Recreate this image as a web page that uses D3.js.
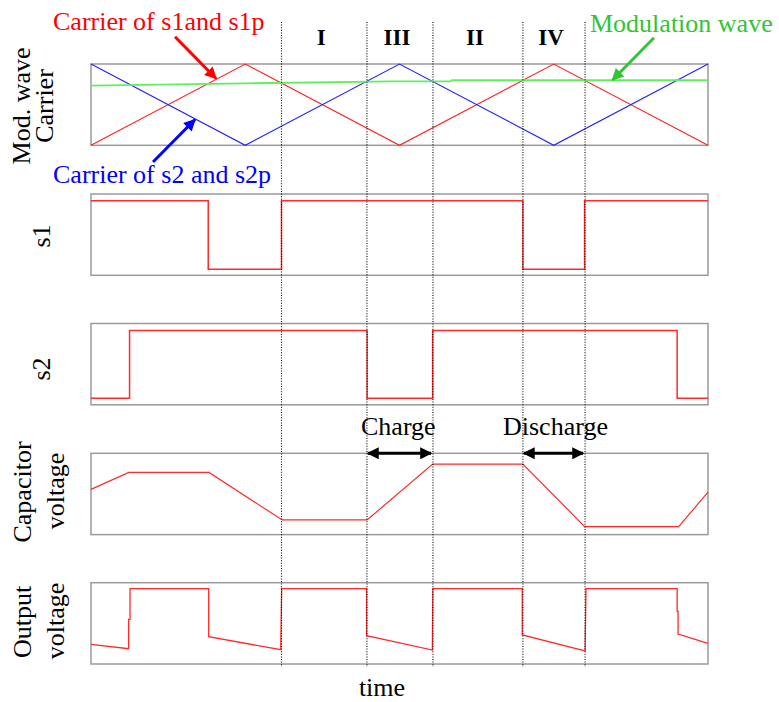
<!DOCTYPE html>
<html>
<head>
<meta charset="utf-8">
<script src="https://cdn.jsdelivr.net/npm/d3@7"></script>
<style>
  html, body { margin: 0; padding: 0; background: #fff; }
  svg { display: block; }
  text { font-family: "Liberation Serif", "Times New Roman", "DejaVu Serif", serif; }
</style>
</head>
<body>
<svg id="chart" width="779" height="702"></svg>
<script>
// ---------------- DATA (time in carrier half-periods, values normalised 0..1) ----------------
const carrierTimes = [0, 1, 2, 3, 4];
const carrier1Values = [0, 1, 0, 1, 0];          // carrier of s1 and s1p (red)
const carrier2Values = [1, 0, 1, 0, 1];          // carrier of s2 and s2p (blue)

const modTimes  = [0, 1.0, 1.95, 2.33, 2.34, 4];
const modValues = [0.733, 0.762, 0.787, 0.788, 0.800, 0.800];

const s1Times  = [0, 0.76, 1.235, 2.80, 3.20, 4];
const s1Values = [0.917, 0.074, 0.917, 0.074, 0.917, 0.917];

const s2Times  = [0, 0.25, 1.79, 2.215, 3.80, 4];
const s2Values = [0.082, 0.914, 0.082, 0.914, 0.082, 0.082];

const capTimes  = [0, 0.245, 0.765, 1.24, 1.79, 2.215, 2.80, 3.20, 3.81, 4];
const capValues = [0.556, 0.765, 0.765, 0.180, 0.180, 0.868, 0.868, 0.099, 0.099, 0.522];

const outTimes  = [0, 0.244, 0.244, 0.253, 0.253, 0.763, 0.763, 1.230, 1.236, 1.787, 1.787, 2.213, 2.216, 2.796, 2.796, 3.203, 3.209, 3.800, 3.800, 3.806, 3.806, 4];
const outValues = [0.242, 0.188, 0.55, 0.55, 0.926, 0.926, 0.336, 0.176, 0.926, 0.926, 0.348, 0.172, 0.926, 0.926, 0.357, 0.160, 0.926, 0.926, 0.648, 0.648, 0.369, 0.255];

const boundaryTimes = [1.235, 1.789, 2.217, 2.80, 3.203];
const intervalLabels = ["I", "III", "II", "IV"];
const panelLabels = [["Mod. wave", "Carrier"], ["s1"], ["s2"], ["Capacitor", "voltage"], ["Output", "voltage"]];
const chargeLabels = ["Charge", "Discharge"];
const chargeSpans = [[1.789, 2.217], [2.80, 3.203]];
const xLabel = "time";

// ---------------- LAYOUT ----------------
const FONT = '"Liberation Serif", "Times New Roman", serif';
const svg = d3.select("#chart");
const x = d3.scaleLinear().domain([0, 4]).range([91, 708]);
const panelTops = [64, 194, 323.5, 453.3, 582.7];
const panelH = 81.3;
const ys = panelTops.map(t => d3.scaleLinear().domain([0, 1]).range([t + panelH, t]));

const defs = svg.append("defs");
function marker(id, color, w, h) {
  defs.append("marker").attr("id", id)
    .attr("viewBox", "0 0 10 10").attr("refX", 9).attr("refY", 5)
    .attr("markerWidth", w).attr("markerHeight", h)
    .attr("markerUnits", "userSpaceOnUse")
    .attr("orient", "auto-start-reverse")
    .append("path").attr("d", "M0,0 L10,5 L0,10 Z").attr("fill", color);
}
marker("arRed", "#ff0000", 14, 12);
marker("arBlue", "#0000ff", 14, 12);
marker("arGreen", "#33c433", 14, 12);
marker("arBlack", "#000", 16, 12);

// frames
panelTops.forEach(t => {
  svg.append("rect").attr("x", x(0)).attr("y", t).attr("width", x(4) - x(0)).attr("height", panelH)
    .attr("fill", "none").attr("stroke", "#9a9a9a").attr("stroke-width", 1.5);
});

const lineGen = (ys_, times, vals) => d3.line().x((d, i) => x(times[i])).y((d, i) => ys_(vals[i]))(vals);
const stepGen = (ys_, times, vals) => d3.line().curve(d3.curveStepAfter).x((d, i) => x(times[i])).y((d, i) => ys_(vals[i]))(vals);

// panel 1
svg.append("path").attr("d", lineGen(ys[0], carrierTimes, carrier1Values)).attr("fill", "none").attr("stroke", "#ff2020").attr("stroke-width", 1.1);
svg.append("path").attr("d", lineGen(ys[0], carrierTimes, carrier2Values)).attr("fill", "none").attr("stroke", "#2020ff").attr("stroke-width", 1.1);
svg.append("path").attr("d", lineGen(ys[0], modTimes, modValues)).attr("fill", "none").attr("stroke", "#5ef05e").attr("stroke-width", 1.8);

// s1, s2
svg.append("path").attr("d", stepGen(ys[1], s1Times, s1Values)).attr("fill", "none").attr("stroke", "#ff2a2a").attr("stroke-width", 1.5);
svg.append("path").attr("d", stepGen(ys[2], s2Times, s2Values)).attr("fill", "none").attr("stroke", "#ff2a2a").attr("stroke-width", 1.5);
// capacitor & output
svg.append("path").attr("d", lineGen(ys[3], capTimes, capValues)).attr("fill", "none").attr("stroke", "#ff2a2a").attr("stroke-width", 1.2);
svg.append("path").attr("d", lineGen(ys[4], outTimes, outValues)).attr("fill", "none").attr("stroke", "#ff2a2a").attr("stroke-width", 1.3);

// dotted boundary lines
boundaryTimes.forEach(t => {
  svg.append("line").attr("x1", x(t)).attr("x2", x(t)).attr("y1", 22).attr("y2", 667)
    .attr("stroke", "#000").attr("stroke-width", 1.1).attr("stroke-dasharray", "1,1.6");
});

// interval labels
intervalLabels.forEach((lab, i) => {
  svg.append("text").attr("x", (x(boundaryTimes[i]) + x(boundaryTimes[i + 1])) / 2 - 3).attr("y", 44.5)
    .attr("text-anchor", "middle").attr("font-family", FONT).attr("font-size", 23).attr("font-weight", "bold").text(lab);
});

// panel labels (rotated)
const labelPos = [
  [[30, 106], [53, 106]],
  [[50, 236]],
  [[50, 369]],
  [[31, 492], [64, 491]],
  [[31, 622], [64, 621]]
];
panelLabels.forEach((lines, pi) => {
  lines.forEach((txt, li) => {
    const [px, py] = labelPos[pi][li];
    svg.append("text").attr("transform", `translate(${px},${py}) rotate(-90)`)
      .attr("text-anchor", "middle").attr("font-family", FONT).attr("font-size", 26).text(txt);
  });
});

// annotations
svg.append("text").attr("x", 53).attr("y", 29.5).attr("font-family", FONT).attr("font-size", 26).attr("fill", "#ff0000").text("Carrier of s1and s1p");
svg.append("text").attr("x", 590).attr("y", 31.5).attr("font-family", FONT).attr("font-size", 26).attr("fill", "#33c433").text("Modulation wave");
svg.append("text").attr("x", 53).attr("y", 182.5).attr("font-family", FONT).attr("font-size", 26).attr("fill", "#0000ff").text("Carrier of s2 and s2p");

svg.append("line").attr("x1", 175).attr("y1", 36.7).attr("x2", 216).attr("y2", 78.5)
  .attr("stroke", "#ff0000").attr("stroke-width", 3).attr("marker-end", "url(#arRed)");
svg.append("line").attr("x1", 153).attr("y1", 162).attr("x2", 195).attr("y2", 119.5)
  .attr("stroke", "#0000ff").attr("stroke-width", 3).attr("marker-end", "url(#arBlue)");
svg.append("line").attr("x1", 654).attr("y1", 37.7).attr("x2", 612.5).attr("y2", 80)
  .attr("stroke", "#33c433").attr("stroke-width", 3).attr("marker-end", "url(#arGreen)");

// charge / discharge
chargeLabels.forEach((lab, i) => {
  const [a, b] = chargeSpans[i];
  svg.append("text").attr("x", i === 0 ? 361 : 503).attr("y", 435).attr("font-family", FONT).attr("font-size", 26).text(lab);
  svg.append("line").attr("x1", x(a) + 1).attr("x2", x(b) - 2).attr("y1", 453.3).attr("y2", 453.3)
    .attr("stroke", "#000").attr("stroke-width", 3)
    .attr("marker-start", "url(#arBlack)").attr("marker-end", "url(#arBlack)");
});

svg.append("text").attr("x", 382).attr("y", 696).attr("text-anchor", "middle").attr("font-family", FONT).attr("font-size", 26).text(xLabel);
</script>
</body>
</html>
